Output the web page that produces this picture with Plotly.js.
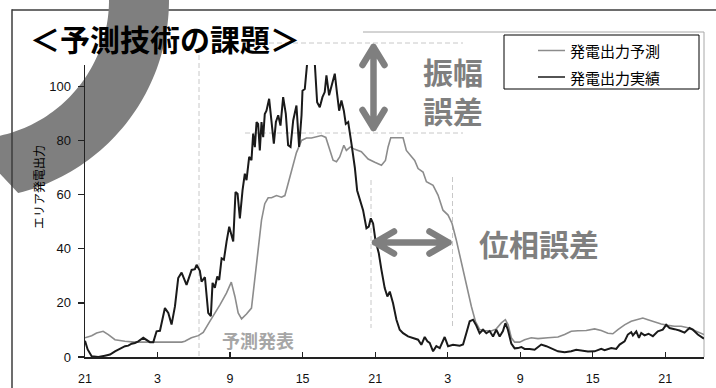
<!DOCTYPE html>
<html>
<head>
<meta charset="utf-8">
<script src="https://cdn.plot.ly/plotly-3.0.1.min.js"></script>
<style>
  html, body { margin: 0; padding: 0; background: #fff; }
  #chart { width: 716px; height: 388px; }
</style>
</head>
<body>
<div id="chart"></div>
<script>
// Hours elapsed since 21:00 on the first day
const tickHours = [0, 6, 12, 18, 24, 30, 36, 42, 48];
const tickLabels = ['21', '3', '9', '15', '21', '3', '9', '15', '21'];
const yTicks = [0, 20, 40, 60, 80, 100];

// Forecast output (発電出力予測)
const forecastHours = [0, 0.55, 0.96, 1.5, 1.93, 2.48, 3.3, 4.1, 6.0, 8.0, 8.26, 8.8, 9.37, 9.78, 10.3, 10.8, 11.16, 11.7, 12.1, 12.4, 12.67, 12.95, 13.36, 13.77, 14.05, 14.32, 14.6, 14.87, 15.15, 15.43, 15.84, 16.25, 16.53, 16.72, 17.08, 17.49, 17.91, 18.32, 18.73, 19.15, 19.56, 19.92, 20.25, 20.52, 20.8, 21.07, 21.41, 21.62, 21.95, 22.32, 22.86, 23.42, 23.97, 24.52, 24.85, 25.07, 25.29, 25.76, 26.31, 26.58, 27.0, 27.27, 27.55, 27.96, 28.24, 28.79, 29.2, 29.61, 30.03, 30.36, 30.71, 31.13, 31.54, 31.96, 32.29, 32.64, 33.06, 33.61, 34.02, 34.44, 34.77, 35.0, 35.26, 35.54, 35.95, 36.36, 36.91, 37.47, 38.29, 39.12, 39.67, 40.22, 40.77, 41.46, 42.15, 42.7, 43.25, 43.66, 44.08, 44.63, 45.18, 45.73, 46.14, 46.56, 47.11, 47.66, 48.21, 48.76, 49.31, 49.86, 50.41, 50.96, 51.2];
const forecastValues = [7.1, 7.9, 8.9, 9.5, 8.3, 6.4, 5.8, 5.5, 5.5, 5.5, 5.8, 7.1, 7.9, 9.1, 13.0, 16.5, 19.3, 23.6, 27.7, 22.4, 16.3, 14.1, 15.9, 18.1, 29.8, 40.8, 50.6, 56.7, 58.9, 58.9, 59.7, 59.1, 59.7, 62.8, 68.9, 75.6, 80.1, 81.0, 81.0, 81.5, 81.9, 81.2, 77.0, 72.8, 72.2, 74.0, 78.3, 76.4, 77.7, 76.8, 75.9, 73.2, 72.0, 70.9, 72.7, 77.7, 81.1, 81.1, 81.1, 76.4, 74.0, 72.7, 69.7, 68.4, 64.8, 63.5, 59.9, 54.3, 52.5, 49.4, 43.3, 34.7, 27.3, 18.7, 13.2, 10.2, 9.8, 9.6, 10.4, 12.6, 13.8, 11.9, 7.1, 5.5, 5.5, 6.4, 7.1, 6.8, 7.1, 7.4, 8.3, 9.5, 9.7, 9.8, 10.4, 9.8, 8.8, 8.6, 10.1, 11.9, 13.2, 14.0, 14.4, 13.8, 13.0, 12.2, 11.7, 11.4, 11.4, 10.8, 9.8, 8.6, 8.3];

// Measured output (発電出力実績)
const actualHours = [0, 0.22, 0.55, 1.1, 1.65, 2.07, 2.48, 2.89, 3.31, 3.58, 3.86, 4.13, 4.41, 4.82, 5.1, 5.37, 5.65, 5.92, 6.2, 6.61, 6.89, 7.16, 7.44, 7.71, 7.99, 8.4, 8.82, 9.09, 9.23, 9.5, 9.64, 9.92, 10.19, 10.41, 10.55, 10.74, 10.94, 11.1, 11.3, 11.49, 11.71, 11.93, 12.26, 12.45, 12.62, 12.81, 13.03, 13.22, 13.36, 13.58, 13.77, 13.91, 14.05, 14.19, 14.32, 14.46, 14.6, 14.74, 14.87, 15.01, 15.23, 15.43, 15.62, 15.79, 15.98, 16.17, 16.39, 16.61, 16.8, 17.0, 17.22, 17.49, 17.71, 17.91, 17.99, 18.18, 18.37, 18.6, 18.8, 19.01, 19.2, 19.42, 19.64, 19.83, 19.97, 20.19, 20.39, 20.66, 20.85, 21.02, 21.21, 21.41, 21.57, 21.77, 22.04, 22.32, 22.51, 22.73, 23.0, 23.28, 23.47, 23.64, 23.83, 24.02, 24.3, 24.52, 24.79, 25.01, 25.21, 25.48, 25.76, 26.03, 26.31, 26.72, 27.13, 27.55, 27.82, 28.1, 28.32, 28.51, 28.79, 29.06, 29.34, 29.75, 30.03, 30.44, 30.99, 31.27, 31.54, 31.82, 32.1, 32.37, 32.64, 32.92, 33.2, 33.47, 33.75, 34.02, 34.3, 34.57, 34.77, 34.98, 35.26, 35.54, 35.81, 36.09, 36.36, 36.78, 37.19, 37.74, 38.16, 38.57, 39.12, 39.67, 40.22, 40.63, 41.05, 41.6, 42.15, 42.7, 42.98, 43.53, 43.94, 44.22, 44.63, 44.9, 45.18, 45.32, 45.6, 45.82, 46.01, 46.28, 46.61, 46.97, 47.38, 47.79, 48.07, 48.35, 48.76, 49.17, 49.59, 50.0, 50.28, 50.69, 51.1, 51.2];
const actualValues = [6.0, 2.8, 0.3, 0, 0.5, 0.9, 2.1, 3.0, 4.0, 4.2, 4.9, 5.2, 5.8, 7.1, 6.4, 5.5, 5.5, 9.5, 9.7, 18.1, 16.3, 12.0, 18.7, 29.2, 31.2, 26.7, 32.2, 32.5, 34.1, 31.9, 27.9, 29.5, 16.3, 15.1, 27.4, 25.6, 29.8, 28.5, 36.5, 36.0, 42.7, 48.2, 42.7, 61.0, 60.4, 51.3, 61.6, 67.8, 65.4, 74.0, 72.8, 82.6, 77.6, 86.9, 86.2, 76.4, 86.9, 81.3, 89.9, 91.1, 95.5, 88.1, 78.9, 86.9, 89.4, 85.6, 96.1, 89.9, 78.3, 77.7, 87.5, 93.0, 77.7, 89.4, 98.5, 99.1, 108.4, 114.0, 113.0, 108.4, 94.2, 92.4, 96.1, 98.0, 104.2, 96.8, 99.9, 104.8, 97.4, 91.1, 94.9, 91.1, 86.2, 86.9, 78.9, 70.0, 61.6, 58.0, 54.3, 47.6, 48.2, 51.3, 49.4, 43.3, 38.4, 32.2, 25.5, 22.4, 24.2, 19.9, 13.8, 10.1, 8.8, 7.6, 7.0, 6.4, 4.5, 7.4, 5.8, 5.2, 2.1, 4.0, 3.3, 7.4, 4.0, 4.5, 4.2, 4.6, 8.8, 13.2, 13.8, 11.6, 8.8, 10.1, 8.8, 9.6, 7.6, 10.1, 7.6, 9.6, 12.5, 10.1, 5.0, 3.2, 3.3, 3.7, 3.0, 3.0, 2.7, 4.6, 4.0, 3.3, 2.1, 1.8, 2.1, 2.7, 2.5, 2.0, 2.1, 3.0, 2.5, 3.3, 3.0, 4.6, 5.8, 8.3, 9.2, 8.0, 9.5, 7.1, 8.9, 8.0, 8.6, 7.7, 9.5, 10.1, 11.9, 10.7, 10.3, 9.8, 9.0, 10.7, 10.1, 8.3, 7.1, 6.8];

const seriesNames = ['発電出力予測', '発電出力実績'];

// Figure geometry
const W = 716, H = 388;
const M = { l: 85, r: 12, t: 65, b: 31 };
const PW = W - M.l - M.r, PH = H - M.t - M.b;
// pixel -> paper coordinate helpers for the decorations
const fx = px => (px - M.l) / PW;
const fy = py => (H - M.b - py) / PH;
const P = (px, py) => fx(px).toFixed(5) + ',' + fy(py).toFixed(5);

const JP = '"Noto Sans CJK JP", "Noto Sans", sans-serif';
const LAT = '"Liberation Sans", Arial, sans-serif';
const GRAY = '#7f7f7f';

// Thick curved band across the upper-left corner (ring sector)
function bandPath() {
  const cx = -30, cy = 0, rOut = 199, rIn = 139;
  let d = '';
  for (let a = -14; a <= 77; a += 1.5) {
    const t = a * Math.PI / 180;
    d += (d ? ' L' : 'M') + P(cx + rOut * Math.cos(t), cy + rOut * Math.sin(t));
  }
  for (let a = 91; a >= -14; a -= 1.5) {
    const t = a * Math.PI / 180;
    d += ' L' + P(cx + rIn * Math.cos(t), cy + rIn * Math.sin(t));
  }
  return d + ' Z';
}

const dashLine = (x0, y0, x1, y1) => ({
  type: 'line', xref: 'paper', yref: 'paper', layer: 'below',
  x0: fx(x0), y0: fy(y0), x1: fx(x1), y1: fy(y1),
  line: { color: '#c8c8c8', width: 1, dash: '5px,3px' }
});

const frameLine = (x0, y0, x1, y1) => ({
  type: 'line', xref: 'paper', yref: 'paper', layer: 'below',
  x0: fx(x0), y0: fy(y0), x1: fx(x1), y1: fy(y1),
  line: { color: '#3c3c3c', width: 1.5 }
});

const shapes = [
  // slide frame, top edge
  frameLine(12, 10, 730, 10),
  // chart area border
  { type: 'path', xref: 'paper', yref: 'paper', layer: 'below',
    path: 'M' + P(363, 32) + ' L' + P(704, 32) + ' L' + P(704, 357),
    line: { color: '#a8a8a8', width: 1 } },
  // curved band
  { type: 'path', xref: 'paper', yref: 'paper', layer: 'below',
    path: bandPath(), fillcolor: GRAY, line: { width: 0 } },
  // slide frame, left edge
  frameLine(12, 9.25, 12, 400),
  // guide lines
  dashLine(199, 47, 199, 357),
  dashLine(245, 43, 463, 43),
  dashLine(245, 133, 463, 133),
  dashLine(371, 180, 371, 328),
  dashLine(452.5, 177, 452.5, 328),
  // legend frame and samples
  { type: 'rect', xref: 'paper', yref: 'paper', layer: 'above',
    x0: fx(504), y0: fy(89), x1: fx(699), y1: fy(35),
    fillcolor: '#ffffff', line: { color: '#000000', width: 1 } },
  { type: 'line', xref: 'paper', yref: 'paper', layer: 'above',
    x0: fx(538), y0: fy(50.5), x1: fx(565), y1: fy(50.5),
    line: { color: '#8c8c8c', width: 1.5 } },
  { type: 'line', xref: 'paper', yref: 'paper', layer: 'above',
    x0: fx(538), y0: fy(77), x1: fx(565), y1: fy(77),
    line: { color: '#1a1a1a', width: 1.5 } }
];

// double-headed arrows
const arrowIdx = [];
function addArrow(d) {
  arrowIdx.push(shapes.length);
  shapes.push({ type: 'path', xref: 'paper', yref: 'paper', layer: 'above',
    path: d, line: { color: GRAY, width: 6.5 } });
}
addArrow('M' + P(373.5, 47) + ' L' + P(373.5, 128) +
         ' M' + P(362.5, 65) + ' L' + P(373.5, 47) + ' L' + P(384.5, 65) +
         ' M' + P(362.5, 110) + ' L' + P(373.5, 128) + ' L' + P(384.5, 110));
addArrow('M' + P(375, 242.5) + ' L' + P(448.5, 242.5) +
         ' M' + P(394, 231.5) + ' L' + P(375, 242.5) + ' L' + P(394, 253.5) +
         ' M' + P(429.5, 231.5) + ' L' + P(448.5, 242.5) + ' L' + P(429.5, 253.5));

const note = (text, px, py, size, color, xanchor, extra) => Object.assign({
  text: text, xref: 'paper', yref: 'paper', x: fx(px), y: fy(py),
  xanchor: xanchor || 'center', yanchor: 'middle', showarrow: false,
  font: { family: JP, size: size, color: color }
}, extra || {});

const annotations = [
  note('<b>＜予測技術の課題＞</b>', 28, 38, 30, '#000000', 'left'),
  note('エリア発電出力', 38, 187, 12, '#000000', 'center', { textangle: -90 }),
  note('<b>振幅</b><br><b>誤差</b>', 453, 90, 30, GRAY, 'center', { align: 'center' }),
  note('<b>位相誤差</b>', 539, 243.5, 30, GRAY),
  note('<b>予測発表</b>', 258, 339.5, 18, '#a6a6a6'),
  note(seriesNames[0], 568, 50.5, 15, '#000000', 'left'),
  note(seriesNames[1], 568, 77, 15, '#000000', 'left')
];

const traces = [
  { x: forecastHours, y: forecastValues, name: seriesNames[0], type: 'scatter', mode: 'lines',
    line: { color: '#8c8c8c', width: 1.6 }, cliponaxis: true },
  { x: actualHours, y: actualValues, name: seriesNames[1], type: 'scatter', mode: 'lines',
    line: { color: '#1a1a1a', width: 2 }, cliponaxis: true }
];

const layout = {
  width: W, height: H,
  margin: M,
  paper_bgcolor: '#ffffff', plot_bgcolor: 'rgba(0,0,0,0)',
  showlegend: false,
  xaxis: {
    range: [0, 51.2], tickvals: tickHours, ticktext: tickLabels,
    ticks: 'inside', ticklen: 5, tickwidth: 1.2, tickcolor: '#222',
    showline: true, linecolor: '#222', linewidth: 1.5,
    showgrid: false, zeroline: false, ticklabelstandoff: 9,
    tickfont: { family: LAT, size: 12.5, color: '#111' }
  },
  yaxis: {
    range: [0, 108], tickvals: yTicks,
    ticks: 'outside', ticklen: 6, tickwidth: 1.2, tickcolor: '#222',
    showline: true, linecolor: '#222', linewidth: 1.5,
    showgrid: false, zeroline: false, ticklabelstandoff: 4,
    tickfont: { family: LAT, size: 13, color: '#111' }
  },
  shapes: shapes,
  annotations: annotations
};

Plotly.newPlot('chart', traces, layout, { staticPlot: true }).then(() => {
  // rounded strokes for the arrow glyphs
  arrowIdx.forEach(i => {
    document.querySelectorAll('.shapelayer path[data-index="' + i + '"]').forEach(p => {
      p.style.strokeLinejoin = 'round';
      p.style.strokeLinecap = 'round';
    });
  });
});
</script>
</body>
</html>
